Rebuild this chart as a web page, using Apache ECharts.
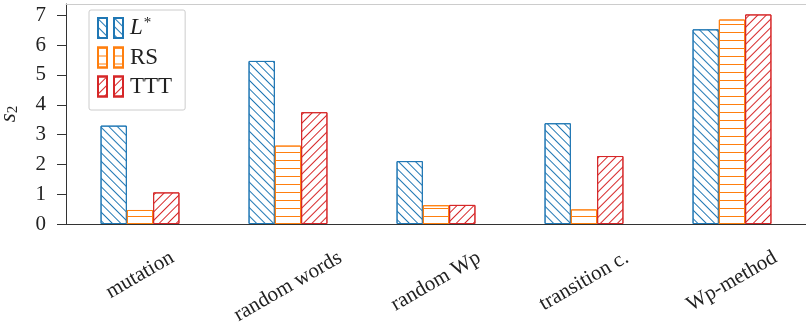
<!DOCTYPE html>
<html>
<head>
<meta charset="utf-8">
<title>s2 by method</title>
<script src="https://cdn.jsdelivr.net/npm/echarts@6/dist/echarts.min.js"></script>
<style>
  html, body { margin: 0; padding: 0; background: #ffffff; }
  #chart { width: 806px; height: 328px; }
</style>
</head>
<body>
<div id="chart"></div>
<script>
// Test methods along the x axis
const categories = ['mutation', 'random words', 'random Wp', 'transition c.', 'Wp-method'];
// s2 values per learner
const lstarValues = [3.30, 5.47, 2.11, 3.38, 6.53];
const rsValues    = [0.47, 2.63, 0.63, 0.49, 6.86];
const tttValues   = [1.06, 3.75, 0.64, 2.28, 7.03];
const seriesNames = ['L*', 'RS', 'TTT'];
const yTicks = [0, 1, 2, 3, 4, 5, 6, 7];

const FONT = "'Liberation Serif', 'DejaVu Serif', serif";
const LABEL_SIZE = 21;
const LEGEND_SIZE = 23;
const BLUE = '#1f77b4', ORANGE = '#ff7f0e', RED = '#d62728';

// Hatch decals: thin lines, rotated for the diagonal styles
function hatch(color, rotation, gap) {
  return {
    symbol: 'rect',
    symbolSize: 1,
    color: color,
    backgroundColor: 'rgba(0,0,0,0)',
    dashArrayX: [1, 0],
    dashArrayY: [1, gap],
    rotation: rotation
  };
}

// Rotated tick labels hang from a common top line: shift each one down by half
// of its rotated height (expressed as padding in the label's own frame).
const measure = document.createElement('canvas').getContext('2d');
measure.font = LABEL_SIZE + 'px ' + FONT;
const ROT = 30 * Math.PI / 180;
const LINE_H = LABEL_SIZE;
const xAxisData = categories.map(function (name) {
  const w = measure.measureText(name).width;
  const h = LABEL_SIZE * 0.8;
  const d = (w * Math.sin(ROT) + h * Math.cos(ROT)) / 2;
  return {
    value: name,
    textStyle: {
      align: 'center',
      verticalAlign: 'top',
      lineHeight: LINE_H,
      padding: [Math.max(0, d * Math.cos(ROT) - LINE_H / 2), 2 * d * Math.sin(ROT), 0, 0]
    }
  };
});

const chart = echarts.init(document.getElementById('chart'), null, { renderer: 'canvas' });

function barSeries(name, values, color, decal) {
  return {
    name: name,
    type: 'bar',
    data: values,
    barWidth: 26.3,
    barGap: '0%',
    itemStyle: { color: '#ffffff', borderColor: color, borderWidth: 1, decal: decal },
    emphasis: { disabled: true }
  };
}

chart.setOption({
  animation: false,
  backgroundColor: '#ffffff',
  grid: { left: 66, right: 0, top: 4, bottom: 104, containLabel: false, outerBoundsMode: 'none' },
  legend: {
    data: seriesNames,
    orient: 'vertical',
    left: 89,
    top: 10,
    backgroundColor: '#ffffff',
    borderColor: '#cccccc',
    borderWidth: 1,
    borderRadius: 2,
    padding: [6, 13, 12, 8],
    itemWidth: 25,
    itemHeight: 20,
    itemGap: 6,
    icon: 'path://M0,0H9V20H0Z M16,0H25V20H16Z',
    selectedMode: false,
    formatter: function (name) {
      return name === 'L*' ? '{i|L}{sup|*}' : '{r|' + name + '}';
    },
    textStyle: {
      fontFamily: FONT,
      fontSize: LEGEND_SIZE,
      lineHeight: 20,
      color: '#222222',
      padding: [0, 0, 0, 2],
      rich: {
        r: { fontFamily: FONT, fontSize: LEGEND_SIZE, color: '#222222', lineHeight: 20 },
        i: { fontFamily: FONT, fontSize: LEGEND_SIZE, fontStyle: 'italic', color: '#222222', lineHeight: 20 },
        sup: { fontFamily: FONT, fontSize: 15, color: '#222222', lineHeight: 11, padding: [0, 0, 9, 1] }
      }
    }
  },
  xAxis: [
    {
      type: 'category',
      data: xAxisData,
      position: 'bottom',
      axisLine: { lineStyle: { color: '#333333', width: 1 } },
      axisTick: { alignWithLabel: true, length: 10, lineStyle: { color: '#333333' } },
      axisLabel: {
        interval: 0,
        rotate: 30,
        align: 'center',
        verticalAlign: 'top',
        margin: 25,
        fontFamily: FONT,
        fontSize: LABEL_SIZE,
        color: '#222222'
      }
    },
    {
      type: 'category',
      data: categories,
      position: 'top',
      axisLine: { lineStyle: { color: '#cccccc', width: 1 } },
      axisTick: { show: false },
      axisLabel: { show: false }
    }
  ],
  yAxis: {
    type: 'value',
    min: 0,
    max: 7.38,
    interval: 1,
    name: '{s|s}{sub|2}',
    nameLocation: 'middle',
    nameGap: 45,
    nameTextStyle: {
      rich: {
        s: { fontFamily: FONT, fontSize: 23, fontStyle: 'italic', color: '#222222', lineHeight: 24 },
        sub: { fontFamily: FONT, fontSize: 15, color: '#222222', lineHeight: 24, padding: [9, 0, 0, 0] }
      }
    },
    splitLine: { show: false },
    axisLine: { show: true, lineStyle: { color: '#333333', width: 1 } },
    axisTick: { show: true, length: 9, customValues: yTicks, lineStyle: { color: '#333333' } },
    axisLabel: {
      customValues: yTicks,
      margin: 20,
      fontFamily: FONT,
      fontSize: LABEL_SIZE,
      color: '#222222'
    }
  },
  series: [
    barSeries(seriesNames[0], lstarValues, BLUE, hatch(BLUE, Math.PI / 4, 4.66)),
    barSeries(seriesNames[1], rsValues, ORANGE, hatch(ORANGE, 0, 7)),
    barSeries(seriesNames[2], tttValues, RED, hatch(RED, -Math.PI / 4, 4.66))
  ]
});
</script>
</body>
</html>
